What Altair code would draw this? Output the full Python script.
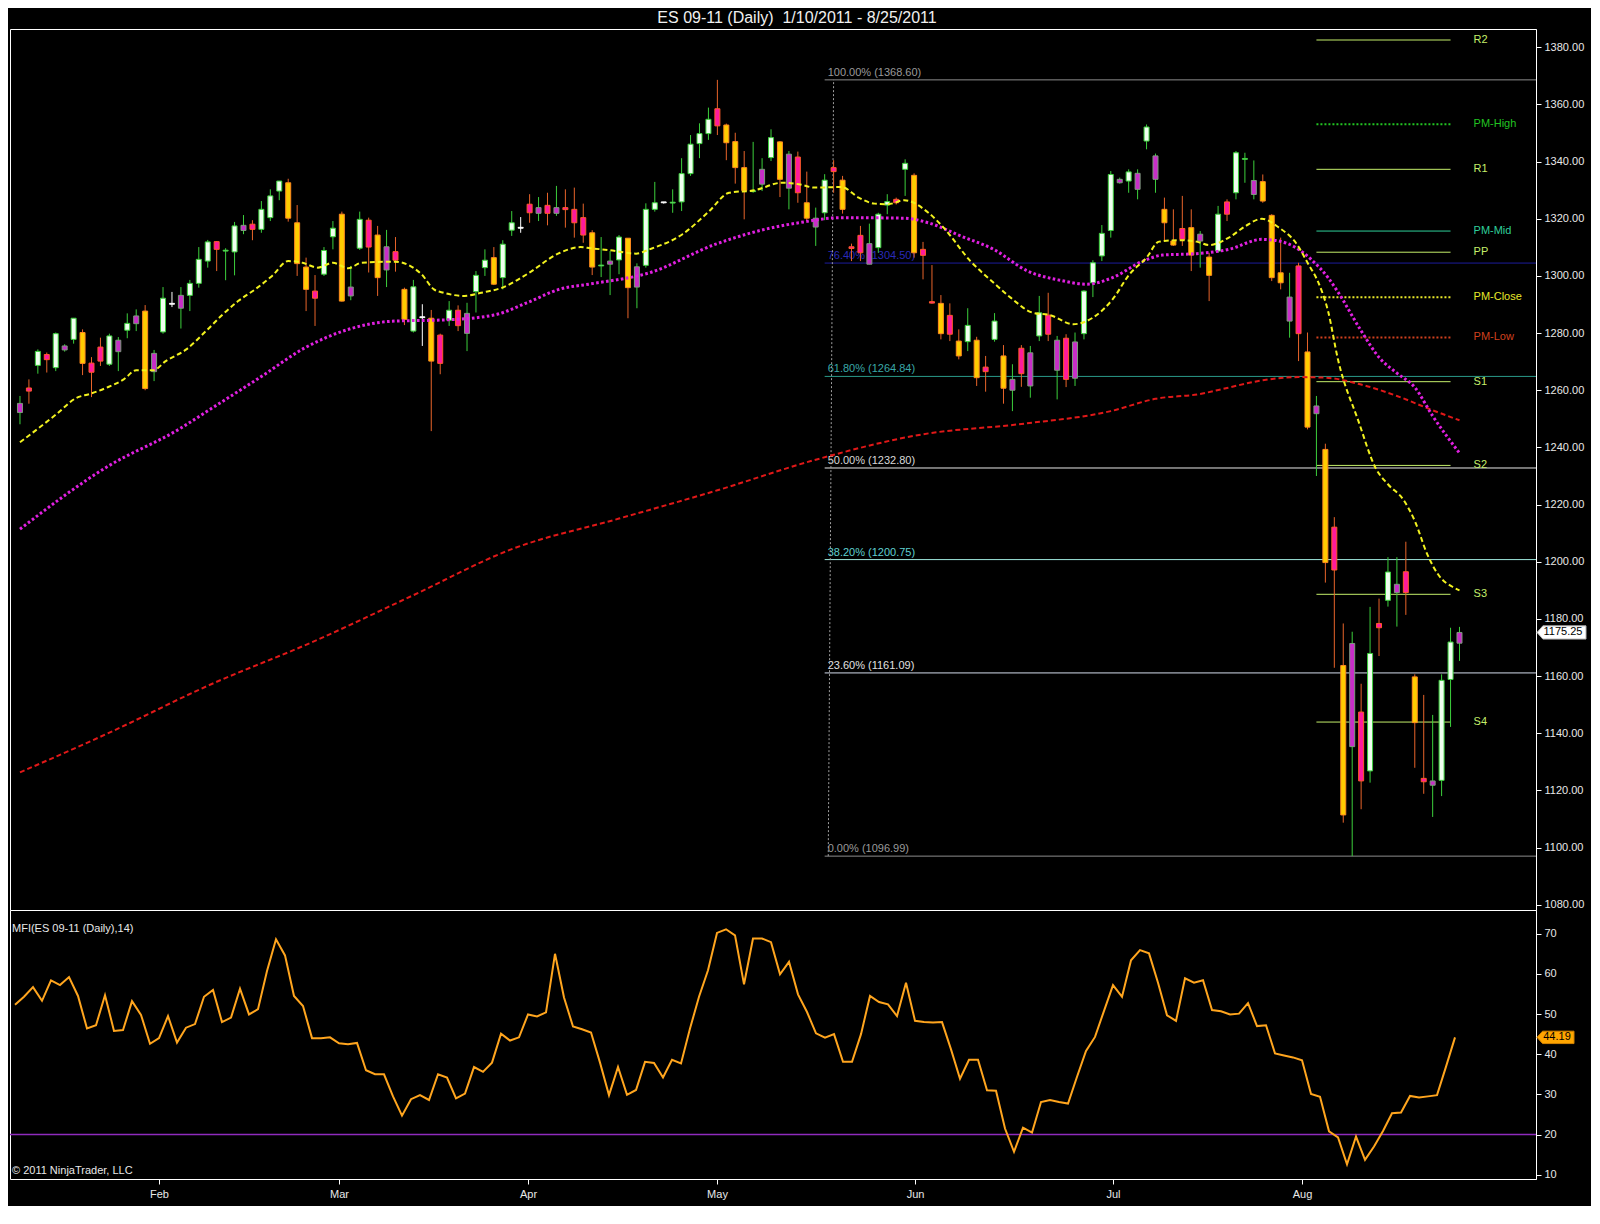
import altair as alt
import pandas as pd

# ---------------- text ----------------
TITLE = "ES 09-11 (Daily)\u00a0\u00a01/10/2011 - 8/25/2011"
MFI_LABEL = "MFI(ES 09-11 (Daily),14)"
COPYRIGHT = "\u00a9 2011 NinjaTrader, LLC"

# ---------------- candles (bar index 0 = 1/10/2011) ----------------
opens = [
    1252.2, 1260.8, 1268.7, 1272.5, 1267.9, 1274.1, 1277.8, 1280.2, 1269.5, 1275.1,
    1269.1, 1273.5, 1281.0, 1283.3, 1287.7, 1266.5, 1280.4, 1290.1, 1288.7, 1293.2,
    1297.4, 1305.2, 1312.0, 1308.7, 1308.4, 1315.9, 1318.1, 1316.3, 1320.4, 1329.7,
    1332.6, 1318.6, 1303.1, 1294.7, 1300.6, 1313.7, 1321.6, 1293.0, 1309.7, 1319.5,
    1314.3, 1302.1, 1308.5, 1295.3, 1280.7, 1285.4, 1285.2, 1279.3, 1284.5, 1288.0,
    1279.9, 1294.5, 1302.9, 1306.4, 1299.4, 1316.0, 1316.7, 1325.1, 1321.9, 1324.7,
    1321.9, 1323.9, 1323.3, 1320.4, 1315.1, 1303.5, 1304.1, 1305.6, 1313.2, 1296.1,
    1303.7, 1323.3, 1325.6, 1325.5, 1325.9, 1335.8, 1346.3, 1349.8, 1358.5, 1352.8,
    1347.0, 1337.9, 1329.5, 1332.1, 1341.4, 1346.9, 1330.7, 1341.6, 1325.6, 1317.1,
    1322.1, 1337.9, 1333.5, 1310.2, 1314.2, 1304.1, 1309.9, 1324.8, 1326.8, 1337.3,
    1335.2, 1309.3, 1291.0, 1290.4, 1286.2, 1277.2, 1277.0, 1277.5, 1268.1, 1277.8,
    1272.0, 1260.0, 1274.7, 1261.5, 1279.0, 1286.3, 1267.0, 1278.2, 1264.2, 1279.8,
    1297.6, 1307.0, 1315.9, 1332.6, 1333.2, 1330.3, 1347.2, 1333.8, 1323.3, 1312.2,
    1316.6, 1316.9, 1312.2, 1306.6, 1308.7, 1325.9, 1329.1, 1340.8, 1328.5, 1333.0,
    1321.2, 1301.1, 1284.2, 1303.5, 1273.4, 1251.8, 1239.3, 1212.1, 1163.7, 1135.3,
    1147.4, 1126.8, 1178.4, 1186.5, 1189.2, 1196.5, 1159.7, 1124.2, 1121.8, 1123.5,
    1158.8, 1171.5,
]
highs = [
    1258.0, 1263.8, 1274.3, 1273.2, 1280.2, 1276.1, 1285.2, 1281.3, 1271.6, 1278.4,
    1279.8, 1278.6, 1286.9, 1288.3, 1289.8, 1274.1, 1296.1, 1294.4, 1296.1, 1298.6,
    1310.1, 1312.6, 1312.2, 1309.7, 1318.9, 1321.3, 1319.5, 1326.2, 1330.3, 1333.2,
    1334.0, 1324.8, 1306.4, 1300.3, 1310.1, 1319.2, 1322.5, 1303.5, 1322.5, 1320.4,
    1317.5, 1316.1, 1313.6, 1295.9, 1298.6, 1290.1, 1288.1, 1279.8, 1291.2, 1289.7,
    1290.6, 1301.7, 1309.3, 1310.1, 1312.5, 1322.7, 1320.6, 1328.6, 1327.6, 1329.1,
    1331.5, 1330.3, 1330.9, 1325.3, 1316.0, 1313.6, 1308.7, 1314.3, 1313.2, 1304.4,
    1325.4, 1332.9, 1325.9, 1330.3, 1341.2, 1349.3, 1353.4, 1358.9, 1368.6, 1353.3,
    1350.1, 1343.7, 1346.9, 1341.2, 1351.3, 1347.2, 1343.7, 1343.5, 1336.5, 1323.9,
    1335.6, 1340.5, 1335.0, 1311.3, 1317.5, 1318.3, 1322.1, 1328.6, 1327.4, 1340.8,
    1335.9, 1311.9, 1303.8, 1293.3, 1290.4, 1281.3, 1288.7, 1278.7, 1272.0, 1287.0,
    1275.8, 1269.1, 1275.8, 1275.5, 1293.0, 1294.1, 1279.0, 1279.6, 1280.2, 1295.0,
    1305.5, 1317.8, 1336.7, 1334.4, 1337.3, 1337.3, 1353.0, 1342.8, 1327.4, 1323.3,
    1328.0, 1323.3, 1315.7, 1308.1, 1324.5, 1326.8, 1343.7, 1343.1, 1340.4, 1335.5,
    1321.6, 1313.4, 1301.1, 1304.6, 1280.2, 1258.0, 1241.3, 1215.6, 1178.4, 1175.5,
    1157.3, 1184.2, 1187.1, 1201.6, 1201.6, 1207.0, 1160.6, 1153.4, 1146.4, 1160.6,
    1176.9, 1177.2,
]
lows = [
    1248.1, 1255.3, 1265.8, 1266.2, 1266.7, 1273.5, 1276.3, 1265.3, 1257.6, 1268.5,
    1268.5, 1266.7, 1278.2, 1280.7, 1260.0, 1263.2, 1279.8, 1289.1, 1281.6, 1287.7,
    1295.9, 1302.9, 1301.7, 1298.5, 1300.2, 1314.6, 1312.5, 1315.1, 1319.2, 1326.5,
    1319.0, 1300.0, 1287.7, 1282.5, 1300.0, 1309.3, 1291.0, 1291.5, 1309.1, 1301.2,
    1293.0, 1296.1, 1301.5, 1282.8, 1280.2, 1275.5, 1245.7, 1265.6, 1282.5, 1280.7,
    1273.7, 1287.2, 1300.0, 1296.8, 1295.3, 1314.0, 1315.1, 1318.6, 1319.2, 1317.7,
    1321.0, 1316.9, 1313.4, 1311.6, 1300.3, 1299.6, 1293.3, 1300.6, 1285.2, 1288.7,
    1302.9, 1322.5, 1325.3, 1322.1, 1322.7, 1335.0, 1341.2, 1347.6, 1349.3, 1340.5,
    1332.3, 1319.8, 1329.1, 1329.7, 1340.2, 1327.6, 1323.3, 1325.6, 1319.2, 1310.5,
    1319.5, 1329.1, 1321.8, 1305.2, 1305.2, 1304.1, 1308.1, 1321.6, 1325.0, 1328.0,
    1306.4, 1298.8, 1290.3, 1277.8, 1277.2, 1270.8, 1273.7, 1261.5, 1259.5, 1277.0,
    1255.3, 1252.7, 1261.2, 1257.4, 1277.2, 1277.2, 1256.8, 1261.1, 1261.5, 1277.8,
    1292.6, 1305.2, 1313.4, 1332.3, 1329.1, 1326.8, 1344.3, 1329.1, 1312.2, 1310.5,
    1310.5, 1301.7, 1302.9, 1291.2, 1308.1, 1319.2, 1326.8, 1332.6, 1326.8, 1325.6,
    1298.2, 1295.3, 1278.4, 1270.2, 1246.3, 1230.0, 1192.7, 1162.9, 1108.7, 1097.0,
    1113.4, 1122.7, 1167.0, 1184.3, 1177.3, 1181.4, 1127.9, 1118.8, 1110.7, 1118.0,
    1142.2, 1165.3,
]
closes = [
    1255.4, 1259.7, 1273.6, 1270.7, 1279.8, 1275.5, 1285.2, 1269.4, 1266.3, 1270.2,
    1279.0, 1277.5, 1283.4, 1286.0, 1260.6, 1272.9, 1292.2, 1290.4, 1293.2, 1297.4,
    1305.8, 1311.9, 1309.3, 1309.0, 1317.5, 1317.7, 1316.3, 1323.3, 1328.0, 1333.2,
    1320.2, 1304.3, 1295.3, 1292.2, 1308.9, 1316.7, 1291.2, 1296.1, 1319.8, 1310.1,
    1299.4, 1310.2, 1305.5, 1284.8, 1296.2, 1285.7, 1270.2, 1269.4, 1288.0, 1282.6,
    1286.9, 1300.2, 1305.5, 1297.1, 1311.1, 1318.6, 1317.0, 1322.1, 1323.9, 1321.9,
    1323.9, 1323.2, 1318.6, 1314.3, 1303.1, 1303.8, 1305.2, 1313.6, 1295.9, 1303.2,
    1323.3, 1325.6, 1325.9, 1325.8, 1335.8, 1346.1, 1349.8, 1354.8, 1352.5, 1346.6,
    1337.9, 1329.9, 1329.8, 1337.3, 1348.4, 1333.8, 1342.6, 1329.1, 1320.2, 1320.2,
    1333.5, 1336.5, 1323.3, 1309.6, 1308.1, 1311.3, 1321.6, 1326.0, 1325.6, 1339.4,
    1308.1, 1307.2, 1290.5, 1279.8, 1279.6, 1272.0, 1282.7, 1264.4, 1266.5, 1284.2,
    1260.7, 1263.8, 1265.8, 1273.1, 1287.1, 1279.6, 1277.5, 1263.8, 1276.9, 1294.7,
    1304.6, 1314.9, 1335.5, 1333.8, 1336.4, 1335.9, 1352.1, 1342.0, 1318.6, 1310.8,
    1312.8, 1307.3, 1314.6, 1300.2, 1321.6, 1321.6, 1343.1, 1341.1, 1333.4, 1326.2,
    1299.4, 1297.6, 1292.6, 1279.8, 1247.1, 1254.5, 1199.7, 1197.1, 1111.4, 1171.4,
    1123.3, 1167.9, 1176.9, 1196.4, 1192.1, 1189.2, 1143.7, 1123.0, 1123.3, 1158.5,
    1171.9, 1175.25,
]
# candle paint: U white/up, W white doji, D yellow/down, M magenta/down, P magenta/up
KIND_ROWS = [
    "PMUMUPUDMM", "UPUPDPUWPU", "UUMUUPMUUU", "DDDMUUDPUM", "DPMDUWDMUM",
    "PUUDUUWMPM", "PMMMDUPUDP", "UUWUUUUUMD", "DDUPUDPMDP", "UMDMMPUUMU",
    "DMMDMDUDMU", "DPMPUMPMPU", "UUUPUPUPDD", "MDPDUMUUPD", "DDPMDPDMDP",
    "MUMUPMDMPU", "UP",
]
kinds = list("".join(KIND_ROWS))

# ---------------- moving averages (bar index, price) ----------------
ema_fast_i = [0, 1.9, 4.1, 6.3, 7.8, 9.7, 11.6, 13, 14.9, 16.3, 18.6, 20.8, 22.7, 24.4, 26.3, 28.2, 30, 31.6,
              33.3, 35, 36.7, 38.2, 41.9, 44.9, 46.3, 47.4, 49.7, 51.6, 54.1, 56.7, 60.4, 62.7, 63.8, 66,
              68.9, 70.4, 74.1, 77.1, 79.3, 82.2, 85.2, 87.1, 88.9, 91.9, 93.8, 95.6, 97.1, 98.9, 101.6,
              103.3, 106.3, 108.9, 110.8, 113.3, 115.2, 117.8, 120, 122.2, 124.1, 126, 127.4, 129.7, 131.6,
              133, 135.2, 137.1, 138.9, 140.8, 142.7, 144.1, 145.2, 146.3, 147.4, 149.7, 151.6, 153, 154.7,
              156, 157.4, 158.6, 160.4, 161]
ema_fast_v = [1241.8, 1246.3, 1251.7, 1257.3, 1258.7, 1260.9, 1263.8, 1267.0, 1267.0, 1270.2, 1274.3, 1280.7,
              1286.6, 1291.2, 1295.3, 1300.0, 1305.2, 1304.6, 1302.9, 1304.6, 1302.7, 1304.6, 1305.0, 1300.6,
              1295.3, 1294.1, 1293.0, 1294.1, 1296.1, 1300.6, 1308.1, 1310.1, 1309.7, 1309.0, 1307.8, 1309.3,
              1314.6, 1322.7, 1329.1, 1330.0, 1332.6, 1332.1, 1330.9, 1331.1, 1327.4, 1325.3, 1325.1, 1326.5,
              1322.1, 1316.9, 1305.2, 1297.6, 1292.4, 1287.1, 1286.3, 1283.1, 1285.4, 1291.8, 1300.6, 1306.4,
              1312.0, 1312.5, 1312.0, 1310.8, 1313.4, 1317.5, 1320.0, 1316.9, 1311.6, 1304.1, 1297.8, 1287.7,
              1270.9, 1249.2, 1232.9, 1227.1, 1221.8, 1214.3, 1202.6, 1195.6, 1190.9, 1190.0]
ema_mid_i = [0, 9.9, 17.8, 21.2, 26.9, 31.9, 41.9, 47.4, 53, 56.7, 60.4, 63.8, 70.4, 77.8, 83.3, 87.1, 91.9,
             98.9, 101.6, 105.2, 108.9, 112.7, 116.3, 119.3, 122.2, 125.6, 127.8, 131.6, 135.2, 138.9, 140.8,
             142.7, 144.4, 146.3, 147.4, 150, 152, 154, 156, 158, 161]
ema_mid_v = [1211.4, 1233.5, 1246.4, 1253.2, 1264.6, 1274.9, 1284.2, 1284.6, 1286.3, 1290.6, 1295.4, 1297.2,
             1301.1, 1311.1, 1316.3, 1318.6, 1320.4, 1320.2, 1318.6, 1314.0, 1309.3, 1301.7, 1298.5, 1297.1,
             1299.4, 1305.2, 1307.3, 1307.8, 1309.3, 1312.8, 1312.2, 1309.9, 1305.8, 1299.4, 1294.4, 1280.8,
             1271.5, 1266.0, 1261.0, 1251.0, 1238.0]
sma_slow_i = [0, 10, 21, 33, 44, 55, 67, 78, 89, 101, 112, 122, 127, 132, 135, 139, 143, 146, 150, 154, 158, 161]
sma_slow_v = [1126.3, 1140.2, 1156.6, 1172.3, 1188.3, 1204.4, 1215.1, 1225.0, 1235.7, 1244.6, 1248.2, 1252.7,
              1257.0, 1258.7, 1260.8, 1263.5, 1264.6, 1264.4, 1262.0, 1258.0, 1253.0, 1249.5]

# ---------------- Fibonacci retracement ----------------
fib_pct = ["100.00%", "76.40%", "61.80%", "50.00%", "38.20%", "23.60%", "0.00%"]
fib_price = [1368.60, 1304.50, 1264.84, 1232.80, 1200.75, 1161.09, 1096.99]
fib_start_bar = 90.0
fib_anchor_bar = [91.0, 90.4]
fib_anchor_price = [1368.60, 1096.99]

# ---------------- pivots ----------------
piv_names = ["R2", "PM-High", "R1", "PM-Mid", "PP", "PM-Close", "PM-Low", "S1", "S2", "S3", "S4"]
piv_levels = [1382.55, 1353.05, 1337.3, 1315.7, 1308.3, 1292.5, 1278.5, 1263.0, 1233.7, 1188.6, 1143.9]
piv_start_bar = 145
piv_end_bar = 160

# ---------------- MFI(14) ----------------
mfi = [
    52.3, 54.3, 56.7, 53.3, 58.4, 57.2, 59.2, 54.5, 46.4, 47.2,
    54.7, 45.8, 46.0, 53.2, 49.8, 42.6, 44.0, 49.5, 42.9, 46.6,
    47.5, 54.3, 56.0, 48.0, 49.1, 56.3, 49.9, 51.2, 60.7, 68.6,
    64.6, 54.5, 52.0, 44.0, 44.0, 44.2, 42.7, 42.5, 42.8, 36.0,
    35.0, 35.0, 29.5, 24.7, 28.8, 29.8, 28.6, 35.0, 34.2, 29.0,
    30.2, 36.8, 35.6, 37.9, 45.1, 43.4, 44.2, 49.9, 49.4, 50.4,
    65.0, 54.1, 46.9, 46.2, 45.4, 37.9, 29.8, 36.8, 29.9, 31.1,
    38.1, 37.8, 34.2, 38.6, 37.7, 46.4, 54.3, 60.9, 70.2, 71.1,
    69.6, 57.4, 68.8, 68.8, 67.9, 59.9, 63.0, 54.9, 50.5, 45.2,
    44.1, 45.0, 38.1, 38.1, 45.0, 54.5, 53.0, 52.4, 49.5, 57.8,
    48.3, 48.0, 47.9, 48.0, 41.2, 33.9, 38.6, 38.6, 31.0, 30.9,
    21.5, 15.7, 21.7, 20.5, 28.1, 28.6, 28.1, 27.7, 34.4, 40.8,
    44.3, 50.8, 57.2, 54.3, 63.4, 65.9, 65.1, 57.8, 49.7, 48.3,
    58.9, 57.8, 58.4, 51.0, 50.7, 49.9, 50.1, 52.7, 47.0, 47.2,
    40.2, 39.7, 39.2, 38.5, 30.1, 29.4, 20.8, 19.3, 12.6, 19.5,
    13.7, 17.0, 20.9, 25.3, 25.5, 29.6, 29.2, 29.5, 29.8, 36.9,
    44.19,
]
mfi_level = [20]

# ---------------- x axis ----------------
month_names = ["Feb", "Mar", "Apr", "May", "Jun", "Jul", "Aug"]
month_bar = [16, 36, 57, 78, 100, 122, 143]

# =============== layout / style ===============
FONT = "Liberation Sans"
W = 1526
TITLE_H = 20
MAIN_H = 881
MFI_H = 269
X_DOM = [-0.556, 168.998]
Y_DOM = [1078.14, 1386.40]
M_DOM = [8.93, 75.9]

K = ["U", "W", "D", "M", "P"]
FILL = ["#f0fff0", "#ffffff", "#ffcc00", "#ff1a9c", "#c82ec8"]
STROKE = ["#3ccf3c", "#ffffff", "#ff8a1e", "#ff5a28", "#7d9a7d"]
WICK = ["#3ccf3c", "#ffffff", "#e8642a", "#e8642a", "#3ccf3c"]

FIB_LINE = ["#8c8c8c", "#1c1c9c", "#2a9a8a", "#e8e8e8", "#9ee6dc", "#d4dcec", "#8c8c8c"]
FIB_TEXT = ["#9a9a9a", "#2a2ab8", "#3aa8a8", "#d8d8d8", "#5fd0d0", "#e0e0e0", "#9a9a9a"]
PIV_COL = ["#c4ee6a", "#22c422", "#c4ee6a", "#2fcf9a", "#c4ee6a", "#e8e82a", "#d0401e",
           "#c4ee6a", "#c4ee6a", "#c4ee6a", "#c4ee6a"]
PIV_DOTTED = {"PM-High", "PM-Close", "PM-Low"}

xs = alt.Scale(domain=X_DOM, nice=False, zero=False)
ys = alt.Scale(domain=Y_DOM, nice=False, zero=False)
xs2 = alt.Scale(domain=X_DOM, nice=False, zero=False)
ms = alt.Scale(domain=M_DOM, nice=False, zero=False)

price_axis = alt.Axis(orient="right", values=list(range(1080, 1381, 20)), format=".2f",
                      tickSize=5, labelPadding=3, labelFontSize=11, labelColor="#e8e8e8",
                      labelFont=FONT, tickColor="#ffffff", domainColor="#ffffff",
                      grid=False, title=None)
mfi_axis = alt.Axis(orient="right", values=list(range(10, 71, 10)), format="d",
                    tickSize=5, labelPadding=3, labelFontSize=11, labelColor="#e8e8e8",
                    labelFont=FONT, tickColor="#ffffff", domainColor="#ffffff",
                    grid=False, title=None)
label_expr = "".join(f"datum.value == {b} ? '{n}' : " for b, n in zip(month_bar, month_names)) + "''"
month_axis = alt.Axis(values=month_bar, labelExpr=label_expr, tickSize=5, labelPadding=4,
                      labelFontSize=11, labelColor="#e8e8e8", labelFont=FONT,
                      tickColor="#ffffff", domain=False, grid=False, title=None, labelFlush=False)


def PX(f):
    return alt.X(f, scale=xs, axis=None)


def PY(f):
    return alt.Y(f, scale=ys, axis=price_axis)


def MX(f):
    return alt.X(f, scale=xs2, axis=month_axis)


def MY(f):
    return alt.Y(f, scale=ms, axis=mfi_axis)


candles = pd.DataFrame({"i": list(range(len(opens))), "o": opens, "h": highs,
                        "l": lows, "c": closes, "k": kinds})

layers = []

# Fibonacci levels
fib_df = pd.DataFrame({"p": fib_price, "x0": [fib_start_bar] * len(fib_price),
                       "lab": [f"{a} ({b:.2f})" for a, b in zip(fib_pct, fib_price)]})
for k in range(len(fib_df)):
    d = fib_df.iloc[[k]]
    layers.append(alt.Chart(d).mark_rule(color=FIB_LINE[k], strokeWidth=1).encode(
        x=PX("x0:Q"), x2=alt.value(W), y=PY("p:Q")))
    layers.append(alt.Chart(d).mark_text(align="left", baseline="middle", dx=3, dy=-7,
                                         fontSize=11, font=FONT, color=FIB_TEXT[k]).encode(
        x=PX("x0:Q"), y=PY("p:Q"), text="lab:N"))
anchor_df = pd.DataFrame({"i": fib_anchor_bar, "p": fib_anchor_price})
layers.append(alt.Chart(anchor_df).mark_line(color="#a0a0a0", strokeWidth=1, strokeDash=[2, 2]).encode(
    x=PX("i:Q"), y=PY("p:Q")))

# pivots
piv_df = pd.DataFrame({"n": piv_names, "p": piv_levels,
                       "a": [piv_start_bar] * len(piv_names), "b": [piv_end_bar] * len(piv_names)})
for k in range(len(piv_df)):
    d = piv_df.iloc[[k]]
    if piv_names[k] in PIV_DOTTED:
        rule = alt.Chart(d).mark_rule(color=PIV_COL[k], strokeWidth=2, strokeDash=[2, 2])
    else:
        rule = alt.Chart(d).mark_rule(color=PIV_COL[k], strokeWidth=1)
    layers.append(rule.encode(x=PX("a:Q"), x2="b:Q", y=PY("p:Q")))
    layers.append(alt.Chart(d).mark_text(align="left", baseline="middle", dx=23, fontSize=11,
                                         font=FONT, color=PIV_COL[k]).encode(
        x=PX("b:Q"), y=PY("p:Q"), text="n:N"))

# candles
layers.append(alt.Chart(candles).mark_rule(strokeWidth=1).encode(
    x=PX("i:Q"), y=PY("l:Q"), y2="h:Q",
    color=alt.Color("k:N", scale=alt.Scale(domain=K, range=WICK), legend=None)))
layers.append(alt.Chart(candles).mark_bar(size=5, strokeWidth=1).encode(
    x=PX("i:Q"), y=PY("o:Q"), y2="c:Q",
    fill=alt.Fill("k:N", scale=alt.Scale(domain=K, range=FILL), legend=None),
    stroke=alt.Stroke("k:N", scale=alt.Scale(domain=K, range=STROKE), legend=None)))

# moving averages
slow_df = pd.DataFrame({"i": sma_slow_i, "v": sma_slow_v})
mid_df = pd.DataFrame({"i": ema_mid_i, "v": ema_mid_v})
fast_df = pd.DataFrame({"i": ema_fast_i, "v": ema_fast_v})
layers.append(alt.Chart(slow_df).mark_line(color="#e01818", strokeWidth=2, strokeDash=[5, 3],
                                           interpolate="monotone").encode(x=PX("i:Q"), y=PY("v:Q")))
layers.append(alt.Chart(mid_df).mark_line(color="#e020e0", strokeWidth=3, strokeDash=[2.6, 2.4],
                                          interpolate="monotone").encode(x=PX("i:Q"), y=PY("v:Q")))
layers.append(alt.Chart(fast_df).mark_line(color="#f2f21e", strokeWidth=2, strokeDash=[5, 3],
                                           interpolate="monotone").encode(x=PX("i:Q"), y=PY("v:Q")))

# last price marker
ARROW = "M-1,0L-0.76,-0.27L1,-0.27L1,0.27L-0.76,0.27Z"
last_df = pd.DataFrame({"v": [closes[-1]], "t": [f"{closes[-1]:.2f}"]})
layers.append(alt.Chart(last_df).mark_point(shape=ARROW, size=49 * 49, filled=True, color="#ffffff",
                                            stroke="#b0b0b0", strokeWidth=1, opacity=1).encode(
    x=alt.value(W + 25.5), y=PY("v:Q")))
layers.append(alt.Chart(last_df).mark_text(align="center", baseline="middle", fontSize=11, font=FONT,
                                           color="#000000").encode(
    x=alt.value(W + 27), y=PY("v:Q"), text="t:N"))

main = alt.layer(*layers).properties(width=W, height=MAIN_H)

# ---------------- MFI panel ----------------
mfi_df = pd.DataFrame({"i": list(range(len(mfi))), "m": mfi})
lvl_df = pd.DataFrame({"m": mfi_level})
mlast_df = pd.DataFrame({"m": [mfi[-1]], "t": [f"{mfi[-1]:.2f}"]})
lab_df = pd.DataFrame({"t": [MFI_LABEL]})
copy_df = pd.DataFrame({"t": [COPYRIGHT]})
ARROW2 = "M-1,0L-0.7,-0.335L1,-0.335L1,0.335L-0.7,0.335Z"

mlayers = [
    alt.Chart(lvl_df).mark_rule(color="#8e2bbd", strokeWidth=1.5).encode(y=MY("m:Q")),
    alt.Chart(mfi_df).mark_line(color="#ffa51e", strokeWidth=2).encode(x=MX("i:Q"), y=MY("m:Q")),
    alt.Chart(mlast_df).mark_point(shape=ARROW2, size=37 * 37, filled=True, color="#ffa500",
                                   stroke="#d08000", strokeWidth=1, opacity=1).encode(
        x=alt.value(W + 19.5), y=MY("m:Q")),
    alt.Chart(mlast_df).mark_text(align="center", baseline="middle", fontSize=11, font=FONT,
                                  color="#000000").encode(x=alt.value(W + 21), y=MY("m:Q"), text="t:N"),
    alt.Chart(lab_df).mark_text(align="left", baseline="middle", fontSize=11, font=FONT,
                                color="#e8e8e8").encode(x=alt.value(2), y=alt.value(19), text="t:N"),
    alt.Chart(copy_df).mark_text(align="left", baseline="middle", fontSize=11, font=FONT,
                                 color="#e8e8e8").encode(x=alt.value(2), y=alt.value(261), text="t:N"),
]
mfi_chart = alt.layer(*mlayers).properties(width=W, height=MFI_H)

# ---------------- title band ----------------
title_df = pd.DataFrame({"t": [TITLE]})
title_chart = alt.Chart(title_df).mark_text(align="center", baseline="middle", fontSize=16, font=FONT,
                                            color="#f0f0f0").encode(
    x=alt.value(787), y=alt.value(8.5), text="t:N").properties(
    width=W, height=TITLE_H, view=alt.ViewBackground(stroke="transparent", fill="#000000"))

chart = alt.vconcat(title_chart, main, mfi_chart, spacing=0, bounds="flush").properties(
    background="#000000",
    padding={"left": 0, "top": 0, "right": 2, "bottom": 6},
).configure(font=FONT).configure_view(stroke="#ffffff", strokeWidth=1, fill="#000000")

chart.save("out.html", embed_options={"renderer": "svg", "actions": False})
